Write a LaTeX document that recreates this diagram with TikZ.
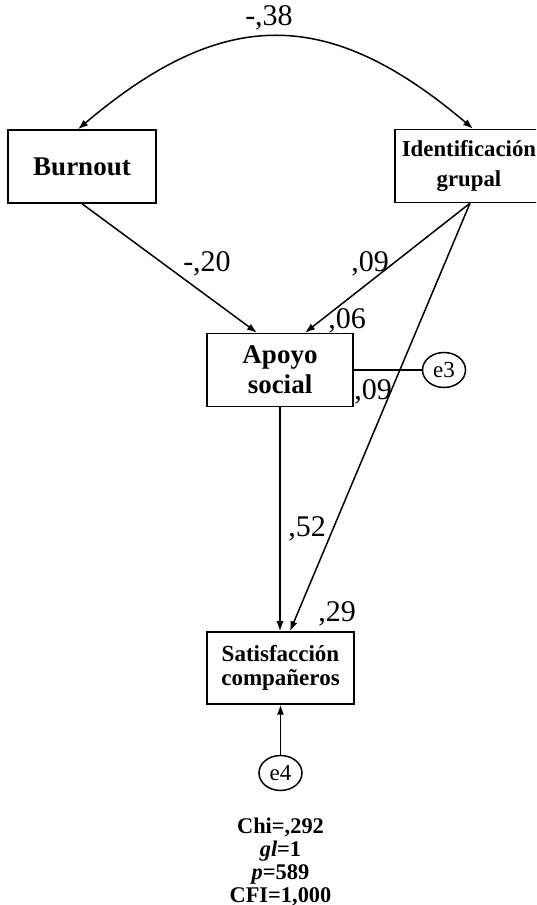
\documentclass[tikz,border=0pt]{standalone}
\usepackage{fontspec}
\setmainfont{Liberation Serif}
\usetikzlibrary{arrows.meta, positioning, shapes.geometric}

\begin{document}
\begin{tikzpicture}[
    x=0.5pt, y=0.5pt,
    node distance=13pt,
    block/.style={rectangle, draw, line width=0.75pt, minimum width=73pt,
                  minimum height=36.5pt, align=center, inner sep=2pt},
    err/.style={ellipse, draw, line width=0.75pt, minimum width=21.5pt,
                minimum height=17.5pt, inner sep=0pt, font=\fontsize{11.5}{11.5}\selectfont},
    coef/.style={inner sep=1pt, font=\fontsize{15}{15}\selectfont},
    arrow/.style={-{Latex[length=5pt, width=3.6pt]}, line width=0.75pt},
    twoway/.style={{Latex[length=5pt, width=3.6pt]}-{Latex[length=5pt, width=3.6pt]}, line width=0.75pt},
    link/.style={line width=0.75pt}
]
    \useasboundingbox (0,0) rectangle (536,905);
    \clip (0,0) rectangle (536,905);
    % variables
    \node[block, minimum width=74pt, font=\fontsize{13.5}{15}\bfseries] (burnout) at (82,738.5) {Burnout};
    \node[block, minimum width=74pt, font=\fontsize{11.4}{15}\bfseries] (ident) at (469,739) {Identificación\\grupal};
    \node[block, font=\fontsize{13.5}{15}\bfseries] (apoyo) at (280,535) {Apoyo\\social};
    \node[block, minimum width=73.5pt, minimum height=36pt, font=\fontsize{11.5}{12}\bfseries] (satis) at (280.5,237) {Satisfacción\\compañeros};
    \node[err, right=34pt of apoyo] (e3) {e3};
    \node[err, below=25pt of satis] (e4) {e4};
    \node[below=13pt of e4, align=center, inner sep=0pt, font=\fontsize{11.2}{11.5}\bfseries] (fitstats)
        {Chi=,292\\\textit{gl}=1\\\textit{p}=589\\CFI=1,000};
    % paths
    \draw[twoway] ([xshift=-2pt]burnout.north) .. controls +(145,123) and +(-145,123) .. ([xshift=2pt]ident.north);
    \draw[arrow] (burnout.south) -- ([xshift=-11.5pt]apoyo.north);
    \draw[arrow] ([xshift=0.5pt]ident.south) -- ([xshift=12.5pt]apoyo.north);
    \draw[arrow] ([xshift=0.5pt]ident.south) -- ([xshift=4.75pt]satis.north);
    \draw[arrow] (apoyo.south) -- (apoyo.south |- satis.north);
    \draw[link] (apoyo.east) -- (e3);
    \draw[arrow] (e4) -- (satis);
    % coefficients
    \node[coef] (c38) at (269,887) {-,38};
    \node[coef] (c20) at (207,641) {-,20};
    \node[coef] (c09a) at (370,641) {,09};
    \node[coef] (c06) at (347,584) {,06};
    \node[coef] (c09b) at (373,513) {,09};
    \node[coef] (c52) at (307,376) {,52};
    \node[coef] (c29) at (337,291) {,29};
\end{tikzpicture}
\end{document}
